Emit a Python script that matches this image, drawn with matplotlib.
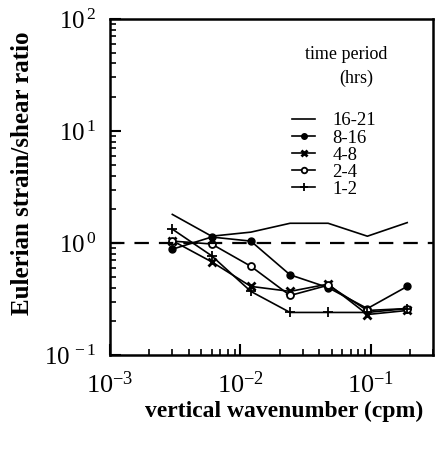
import matplotlib
matplotlib.use("Agg")
import matplotlib.pyplot as plt
from matplotlib.lines import Line2D
from matplotlib.ticker import LogLocator, FixedLocator, NullFormatter

plt.rcParams['font.family'] = ['Liberation Serif', 'DejaVu Serif']
plt.rcParams['mathtext.fontset'] = 'custom'
plt.rcParams['mathtext.rm'] = 'Liberation Serif'
plt.rcParams['mathtext.it'] = 'Liberation Serif'

wavenumber = [0.003, 0.006, 0.012, 0.024, 0.047, 0.094, 0.19]
p16_21 = [1.80, 1.15, 1.25, 1.50, 1.50, 1.15, 1.52]
p8_16 = [0.88, 1.13, 1.04, 0.52, 0.40, 0.26, 0.41]
p4_8 = [1.05, 0.68, 0.41, 0.37, 0.43, 0.23, 0.25]
p2_4 = [1.04, 0.98, 0.62, 0.34, 0.42, 0.25, 0.26]
p1_2 = [1.33, 0.77, 0.37, 0.24, 0.24, 0.24, 0.26]
labels = ['16-21', '8-16', '4-8', '2-4', '1-2']

fig = plt.figure(figsize=(4.37, 4.5), dpi=100)
ax = fig.add_axes([0.252, 0.211, 0.739, 0.747])

ax.plot(wavenumber, p16_21, color='black', lw=1.2)
ax.plot(wavenumber, p8_16, color='black', lw=1.2, marker='o', ms=5, mfc='black')
ax.plot(wavenumber, p4_8, color='black', lw=1.2, marker='x', ms=6, mew=2)
ax.plot(wavenumber, p2_4, color='black', lw=1.2, marker='o', ms=5, mfc='white', mew=1.3)
ax.plot(wavenumber, p1_2, color='black', lw=1.2, marker='+', ms=7, mew=1.3)
ax.axhline(1.0, color='black', lw=1.6, dashes=(6.5, 4.5))

ax.set_xscale('log')
ax.set_yscale('log')
ax.set_xlim(1e-3, 0.3)
ax.set_ylim(0.1, 100)

ax.xaxis.set_major_locator(FixedLocator([1e-3, 1e-2, 1e-1]))
ax.set_xticklabels([r'$10^{-3}$', r'$10^{-2}$', r'$10^{-1}$'])
ax.yaxis.set_major_locator(FixedLocator([0.1, 1, 10, 100]))
ax.set_yticklabels([r'$10^{\,-1}$', r'$10^{\,0}$', r'$10^{\,1}$', r'$10^{\,2}$'])
ax.xaxis.set_minor_locator(LogLocator(base=10, subs=range(2, 10), numticks=20))
ax.yaxis.set_minor_locator(LogLocator(base=10, subs=range(2, 10), numticks=20))
ax.xaxis.set_minor_formatter(NullFormatter())
ax.yaxis.set_minor_formatter(NullFormatter())
ax.tick_params(which='major', direction='in', length=8, width=1.5, labelsize=19)
ax.tick_params(axis='x', which='major', pad=12)
ax.tick_params(axis='y', which='major', pad=10, labelsize=18)
ax.tick_params(which='minor', direction='in', length=4, width=1.2)
ax.tick_params(top=False, right=False, which='both')
for s in ax.spines.values():
    s.set_linewidth(1.8)

ax.set_xlabel('vertical wavenumber (cpm)', fontsize=17, fontweight='bold')
ax.set_ylabel('Eulerian strain/shear ratio', fontsize=18, fontweight='bold')
ax.xaxis.set_label_coords(0.54, -0.135)
ax.yaxis.set_label_coords(-0.235, 0.54)

ax.text(0.731, 0.893, 'time period', transform=ax.transAxes, fontsize=13,
        ha='center', va='center')
ax.text(0.762, 0.824, '(hrs)', transform=ax.transAxes, fontsize=13,
        ha='center', va='center')

handles = [
    Line2D([], [], color='black', lw=1.2),
    Line2D([], [], color='black', lw=1.2, marker='o', ms=4, mfc='black'),
    Line2D([], [], color='black', lw=1.2, marker='x', ms=5, mew=2),
    Line2D([], [], color='black', lw=1.2, marker='o', ms=4, mfc='white', mew=1.3),
    Line2D([], [], color='black', lw=1.2, marker='+', ms=6, mew=1.3),
]
leg = ax.legend(handles, labels, loc='upper left', bbox_to_anchor=(0.563, 0.722),
                frameon=False, fontsize=13.5, handlelength=1.25, handletextpad=0.9,
                labelspacing=0.0, borderpad=0, borderaxespad=0)

fig.savefig('out.png', dpi=100)
